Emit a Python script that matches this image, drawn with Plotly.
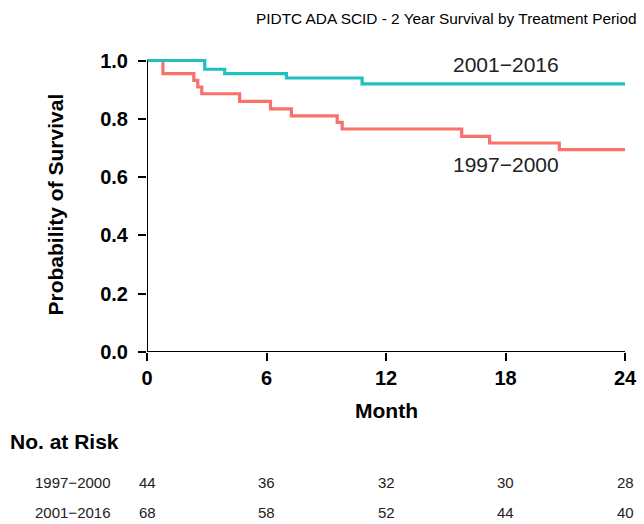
import plotly.graph_objects as go

# Kaplan-Meier step estimates (months, survival probability)
months_2001 = [0, 2.9, 3.9, 7.0, 10.8, 24]
surv_2001 = [1.0, 0.970, 0.955, 0.940, 0.920, 0.920]

months_1997 = [0, 0.8, 2.35, 2.55, 2.75, 4.65, 6.2, 7.25, 9.55, 9.8, 15.8, 17.2, 20.7, 24]
surv_1997 = [1.0, 0.955, 0.932, 0.909, 0.886, 0.860, 0.834, 0.810, 0.788, 0.765, 0.740, 0.717, 0.694, 0.694]

# Number at risk table
risk_months = [0, 6, 12, 18, 24]
risk_1997 = [44, 36, 32, 30, 28]
risk_2001 = [68, 58, 52, 44, 40]
group_labels = ["1997\u22122000", "2001\u22122016"]

x_ticks = [0, 6, 12, 18, 24]
y_ticks = [0.0, 0.2, 0.4, 0.6, 0.8, 1.0]

TEAL = "#22BFC1"
SALMON = "#F8716A"
FONT = "Liberation Sans, Arial, sans-serif"

fig = go.Figure()
fig.add_trace(go.Scatter(x=months_1997, y=surv_1997, mode="lines",
                         line=dict(color=SALMON, width=3.2, shape="hv"),
                         showlegend=False, hoverinfo="skip"))
fig.add_trace(go.Scatter(x=months_2001, y=surv_2001, mode="lines",
                         line=dict(color=TEAL, width=3.2, shape="hv"),
                         showlegend=False, hoverinfo="skip"))

bold = dict(family=FONT, size=20, color="black", weight="bold")
fig.update_layout(
    width=644, height=524,
    margin=dict(l=147, r=15, t=57, b=172, autoexpand=False),
    paper_bgcolor="white", plot_bgcolor="white",
    font=dict(family=FONT, color="black"),
    xaxis=dict(range=[0, 24.2], tickvals=x_ticks, ticktext=[str(v) for v in x_ticks],
               ticks="outside", ticklen=8, tickwidth=2, tickcolor="black",
               showgrid=False, zeroline=False, showline=False, tickfont=bold,
               automargin=False),
    yaxis=dict(range=[0, 1.012], tickvals=y_ticks, ticktext=[f"{v:.1f}" for v in y_ticks],
               ticks="outside", ticklen=8, tickwidth=2, tickcolor="black",
               showgrid=False, zeroline=False, showline=False, tickfont=bold,
               ticklabelstandoff=6, automargin=False),
)

# Axis lines spanning exactly the labelled ranges
fig.add_shape(type="line", x0=0, x1=24, y0=0, y1=0, xref="x", yref="y",
              line=dict(color="black", width=2), layer="above")
fig.add_shape(type="line", x0=0, x1=0, y0=0, y1=1, xref="x", yref="y",
              line=dict(color="black", width=2), layer="above")

ann = []
# Title
ann.append(dict(text="PIDTC ADA SCID - 2 Year Survival by Treatment Period",
                xref="paper", yref="paper", x=0, y=1, xshift=299, yshift=39,
                xanchor="center", yanchor="middle", showarrow=False,
                font=dict(family=FONT, size=15.4, color="black")))
# Axis titles
ann.append(dict(text="Probability of Survival", textangle=-90,
                xref="paper", yref="paper", x=0, y=0.5, xshift=-92,
                xanchor="center", yanchor="middle", showarrow=False,
                font=dict(family=FONT, size=21, color="black", weight="bold")))
ann.append(dict(text="Month", xref="x", yref="paper", x=12, y=0, yshift=-58,
                xanchor="center", yanchor="middle", showarrow=False,
                font=dict(family=FONT, size=21, color="black", weight="bold")))
# Curve labels
ann.append(dict(text=group_labels[1], xref="x", yref="y", x=18, y=0.986,
                xanchor="center", yanchor="middle", showarrow=False,
                font=dict(family=FONT, size=21, color="#222222")))
ann.append(dict(text=group_labels[0], xref="x", yref="y", x=18, y=0.643,
                xanchor="center", yanchor="middle", showarrow=False,
                font=dict(family=FONT, size=21, color="#222222")))
# Number at risk table
ann.append(dict(text="No. at Risk", xref="paper", yref="paper", x=0, y=0,
                xshift=-139, yshift=-89, xanchor="left", yanchor="middle",
                showarrow=False,
                font=dict(family=FONT, size=21, color="black", weight="bold")))
for label, counts, shift in [(group_labels[0], risk_1997, -130),
                             (group_labels[1], risk_2001, -160)]:
    ann.append(dict(text=label, xref="paper", yref="paper", x=0, y=0,
                    xshift=-114, yshift=shift, xanchor="left", yanchor="middle",
                    showarrow=False, font=dict(family=FONT, size=15, color="#222222")))
    for m, n in zip(risk_months, counts):
        ann.append(dict(text=str(n), xref="x", yref="paper", x=m, y=0,
                        yshift=shift, xanchor="center", yanchor="middle",
                        showarrow=False, font=dict(family=FONT, size=15, color="#222222")))
fig.update_layout(annotations=ann)

fig.write_html("out.html")
